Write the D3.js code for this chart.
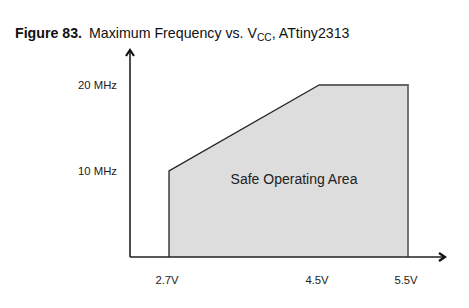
<!DOCTYPE html>
<html><head><meta charset="utf-8">
<script src="https://cdn.jsdelivr.net/npm/d3@7"></script>
<style>body{margin:0;background:#fff}svg{display:block}text{font-family:"Liberation Sans",Arial,sans-serif}</style>
</head><body>
<script>
const voltages = [2.7, 4.5, 5.5];
const voltLabels = ["2.7V", "4.5V", "5.5V"];
const freqTicks = [10, 20];
const freqLabels = ["10 MHz", "20 MHz"];
const boundaryV = [2.7, 2.7, 4.5, 5.5, 5.5];
const boundaryF = [0, 10, 20, 20, 0];

const W = 469, H = 308;
const svg = d3.select("body").append("svg").attr("width", W).attr("height", H);

const x = d3.scaleLinear().domain(voltages).range([169, 319, 408]);
const y = d3.scaleLinear().domain([0, 20]).range([257, 85]);
const ox = 130, oy = 257;

// title
const t = svg.append("text").attr("x", 15).attr("y", 38).attr("font-size", 14.2).attr("fill", "#111");
t.append("tspan").attr("font-weight", "bold").text("Figure 83.");
t.append("tspan").attr("dx", 7).text("Maximum Frequency vs. V");
t.append("tspan").attr("font-size", 10.2).attr("dy", 3).text("CC");
t.append("tspan").attr("dy", -3).text(", ATtiny2313");

// safe area
const pts = boundaryV.map((v, i) => [x(v), y(boundaryF[i])]);
svg.append("path").attr("d", d3.line()(pts) + "Z").attr("fill", "#dddddd").attr("stroke", "none");
svg.append("path").attr("d", d3.line()(pts.slice(0, 3))).attr("fill", "none").attr("stroke", "#222").attr("stroke-width", 1.3);
svg.append("path").attr("d", d3.line()(pts.slice(2))).attr("fill", "none").attr("stroke", "#666").attr("stroke-width", 1.8);

svg.append("text").attr("x", 294).attr("y", 184).attr("text-anchor", "middle").attr("font-size", 14).attr("fill", "#222").text("Safe Operating Area");

// axes
svg.append("line").attr("x1", ox).attr("y1", oy).attr("x2", ox).attr("y2", 51).attr("stroke", "#222").attr("stroke-width", 1.6);
svg.append("line").attr("x1", ox).attr("y1", oy).attr("x2", 444).attr("y2", oy).attr("stroke", "#222").attr("stroke-width", 1.6);
svg.append("path").attr("d", `M${ox-4},${56} L${ox},${50} L${ox+4},${56}`).attr("fill", "none").attr("stroke", "#111").attr("stroke-width", 2.2);
svg.append("path").attr("d", `M${439},${oy-4} L${445},${oy} L${439},${oy+4}`).attr("fill", "none").attr("stroke", "#111").attr("stroke-width", 2.2);

// tick labels
svg.selectAll(".yl").data(freqTicks).enter().append("text")
  .attr("x", 117).attr("y", d => y(d) + 4).attr("text-anchor", "end").attr("font-size", 11.3).attr("fill", "#222")
  .text((d, i) => freqLabels[i]);
svg.selectAll(".xl").data(voltages).enter().append("text")
  .attr("x", d => x(d) - 2).attr("y", 284).attr("text-anchor", "middle").attr("font-size", 11.3).attr("fill", "#222")
  .text((d, i) => voltLabels[i]);
</script>
</body></html>
